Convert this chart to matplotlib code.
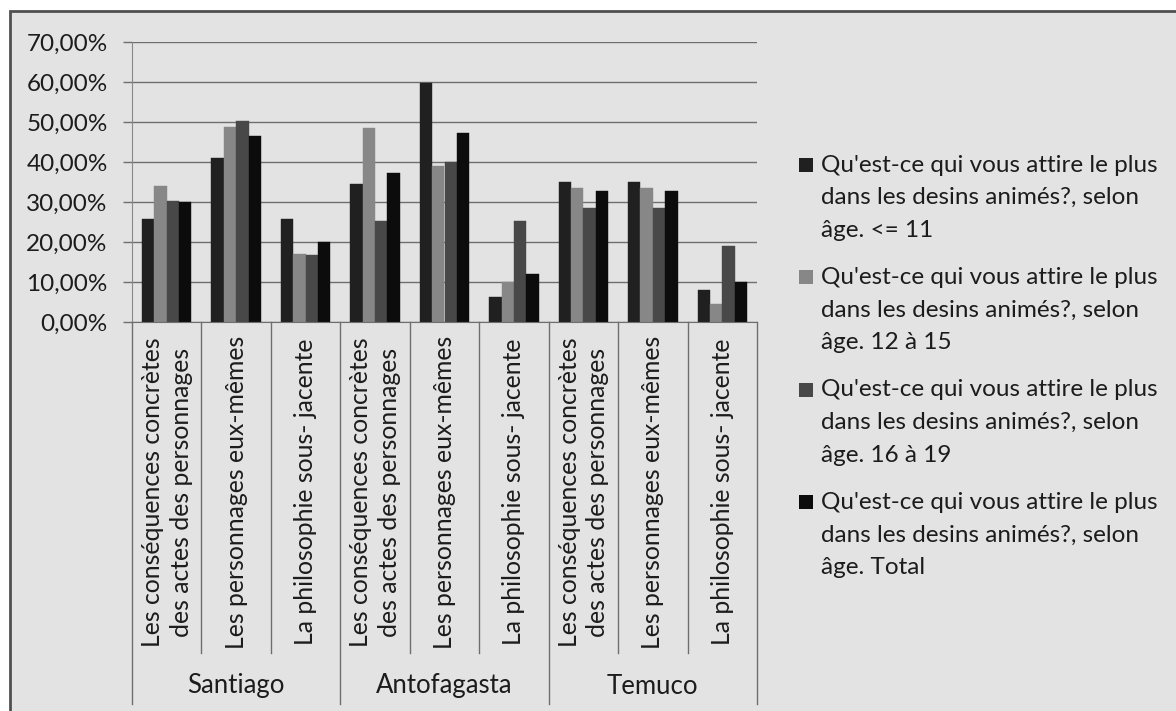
"""Bar chart: what attracts children in cartoons, by city, aspect and age group."""

import matplotlib

matplotlib.use("Agg")
import matplotlib.pyplot as plt
from matplotlib.patches import Rectangle
from matplotlib.ticker import FuncFormatter, MultipleLocator

plt.rcParams["font.family"] = ["Lato", "DejaVu Sans"]

CITIES = ["Santiago", "Antofagasta", "Temuco"]
ASPECTS = [
    "Les conséquences concrètes\ndes actes des personnages",
    "Les personnages eux-mêmes",
    "La philosophie sous- jacente",
]
SERIES_LABELS = [
    "Qu'est-ce qui vous attire le plus\ndans les desins animés?, selon\nâge. <= 11",
    "Qu'est-ce qui vous attire le plus\ndans les desins animés?, selon\nâge. 12 à 15",
    "Qu'est-ce qui vous attire le plus\ndans les desins animés?, selon\nâge. 16 à 19",
    "Qu'est-ce qui vous attire le plus\ndans les desins animés?, selon\nâge. Total",
]
# percentages, city x aspect order
AGE_UPTO_11 = [25.8, 41.1, 25.8, 34.4, 59.7, 6.3, 35.0, 35.0, 8.1]
AGE_12_15 = [34.0, 48.7, 17.1, 48.5, 38.9, 9.9, 33.4, 33.4, 4.6]
AGE_16_19 = [30.2, 50.2, 16.8, 25.2, 40.1, 25.2, 28.6, 28.6, 19.0]
AGE_TOTAL = [30.0, 46.5, 20.0, 37.2, 47.2, 12.0, 32.8, 32.8, 10.0]
SERIES = [AGE_UPTO_11, AGE_12_15, AGE_16_19, AGE_TOTAL]
COLORS = ["#202020", "#878787", "#484848", "#0c0c0c"]

W, H = 1176, 711
BG = "#e3e3e3"
LINE = "#6e6e6e"
TEXT = "#1c1c1c"
FS = 17.5
FS_ROT = 17.8
LEG_LINE_PX = 32.5


def fx(px):
    return px / W


def fy(py):
    return 1 - py / H


fig = plt.figure(figsize=(W / 100, H / 100), dpi=100, facecolor="white")
fig.add_artist(
    Rectangle((fx(9.5), -0.1), 1.2, fy(11) + 0.1, transform=fig.transFigure,
              facecolor=BG, edgecolor="#505050", linewidth=2.0, zorder=-10)
)

ax = fig.add_axes([fx(132), fy(322), fx(757) - fx(132), fy(42) - fy(322)])
ax.set_facecolor(BG)
ax.set_xlim(0, 9)
ax.set_ylim(0, 70)

n_cat = len(CITIES) * len(ASPECTS)
bar_w = 0.178
for j, (values, color) in enumerate(zip(SERIES, COLORS)):
    xs = [i + 0.5 + (j - 1.5) * bar_w for i in range(n_cat)]
    ax.bar(xs, values, width=bar_w, color=color, edgecolor=color, linewidth=0.3, zorder=3)

ax.yaxis.set_major_locator(MultipleLocator(10))
ax.yaxis.set_major_formatter(FuncFormatter(lambda v, _: f"{v:.2f}%".replace(".", ",")))
ax.tick_params(axis="y", length=6.5, width=1, color=LINE, labelsize=FS, labelcolor=TEXT, pad=11)
ax.set_xticks([])
ax.grid(axis="y", color=LINE, linewidth=1.0, zorder=0)
for side in ("top", "right"):
    ax.spines[side].set_visible(False)
ax.spines["left"].set_color("#888888")
ax.spines["bottom"].set_color(LINE)
ax.spines["bottom"].set_zorder(4)

# category separators below the axis
xt = ax.get_xaxis_transform()
for b in range(n_cat + 1):
    bottom = -1.364 if b % 3 == 0 else -1.182
    ax.plot([b, b], [0, bottom], transform=xt, clip_on=False, color=LINE, linewidth=1.0)

for i in range(n_cat):
    ax.text(i + 0.5, -0.607, ASPECTS[i % 3], transform=xt, rotation=90,
            ha="center", va="center", multialignment="center", linespacing=1.3,
            fontsize=FS_ROT, color=TEXT)
for g, city in enumerate(CITIES):
    ax.text(g * 3 + 1.5, -1.30, city, transform=xt, ha="center", va="center",
            fontsize=18.5, color=TEXT)

# legend: square aligned with the first line of each three-line entry
for k, (label, color) in enumerate(zip(SERIES_LABELS, COLORS)):
    base = 171.7 + 112.4 * k
    fig.add_artist(Rectangle((fx(799), fy(base)), fx(14), fy(base - 14) - fy(base),
                             transform=fig.transFigure, facecolor=color, edgecolor="none"))
    for n, line in enumerate(label.split("\n")):
        fig.text(fx(821), fy(base + n * LEG_LINE_PX), line, ha="left", va="baseline",
                 fontsize=FS, color=TEXT)

fig.savefig("out.png", dpi=100, facecolor="white")
